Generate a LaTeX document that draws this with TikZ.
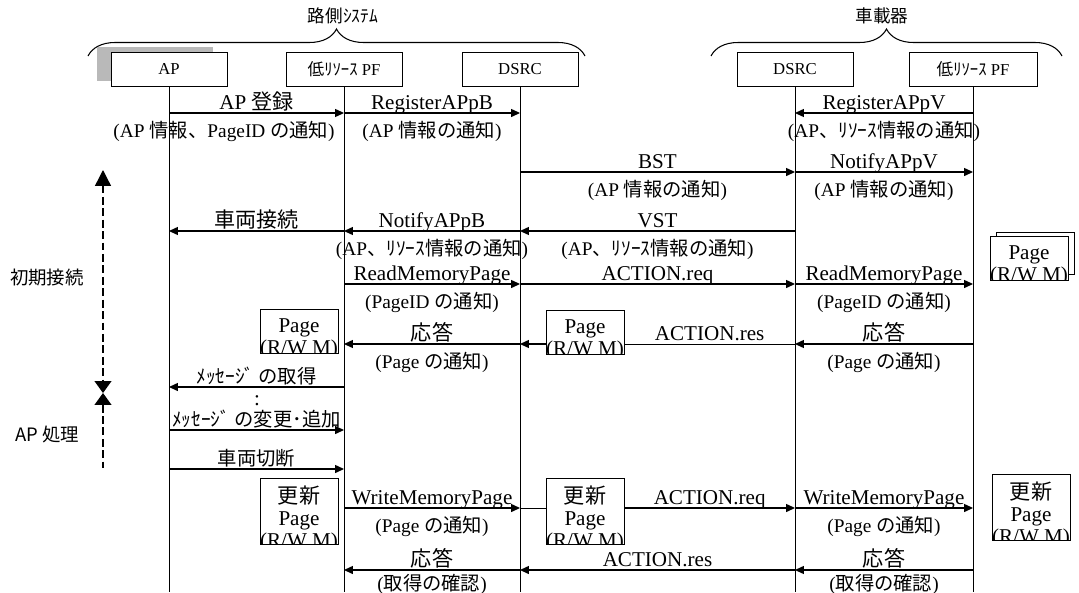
\documentclass[tikz,border=0pt]{standalone}
\usepackage{fontspec}
\setmainfont{Liberation Serif}
\newfontfamily\jp{Noto Sans CJK JP}
\usetikzlibrary{arrows.meta,decorations.pathreplacing,shadows}
\newlength\pxl
\setlength\pxl{0.02cm}
\newcommand\jtxt[1]{{\jp #1}}

\tikzset{
  actor/.style={draw, fill=white, minimum width=116\pxl, minimum height=34\pxl, inner sep=1pt, font=\fontsize{9.5}{11}\selectfont},
  title/.style={font=\fontsize{10}{12}\selectfont},
  brc/.style={line width=0.6pt, decorate, decoration={brace, amplitude=27\pxl}},
  life/.style={line width=0.5pt},
  msg/.style={line width=0.6pt, -{Triangle[length=5pt,width=4.5pt]}},
  lbl/.style={anchor=base, yshift=4\pxl, inner sep=0pt, font=\fontsize{12}{13}\selectfont},
  lbls/.style={anchor=base, yshift=4\pxl, inner sep=0pt, font=\fontsize{11}{12}\selectfont},
  sub/.style={anchor=base, yshift=-24\pxl, inner sep=0pt, font=\fontsize{11}{12}\selectfont},
  phase/.style={font=\jp\fontsize{10.5}{12}\selectfont},
  pagebox/.style={draw, fill=white, minimum width=78\pxl, minimum height=44\pxl, inner sep=0pt,
    path picture={\node[anchor=north, align=center, inner sep=0pt, text depth=0pt, font=\fontsize{12}{12.6}\selectfont]
      at ([yshift=-5\pxl]path picture bounding box.north) {#1};}},
  updbox/.style={pagebox={#1}, minimum height=66\pxl},
  backbox/.style={draw, fill=white, minimum width=78\pxl, minimum height=42\pxl},
}

\begin{document}
\begin{tikzpicture}[x=0.02cm, y=-0.02cm]
\useasboundingbox (0,0) rectangle (1079,592);

% groups
\node[title] (rsys) at (343,16) {\jtxt{路側ｼｽﾃﾑ}};
\node[title] (veh) at (882,16) {\jtxt{車載器}};
\draw[brc] (88,56) -- (585,56);
\draw[brc] (711,56) -- (1062,56);

% lifeline heads
\node[actor, drop shadow={shadow xshift=-14\pxl, shadow yshift=5\pxl, fill=gray!55, opacity=1}] (ap) at (169,69) {AP};
\node[actor] (rpf) at (344,69) {\jtxt{低ﾘｿｰｽ} PF};
\node[actor] (rdsrc) at (520,69) {DSRC};
\node[actor] (vdsrc) at (795,69) {DSRC};
\node[actor, minimum width=128\pxl] (vpf) at (973,69) {\jtxt{低ﾘｿｰｽ} PF};

\coordinate (bot) at (0,592);
\foreach \n in {ap,rpf,rdsrc,vdsrc,vpf}
  \draw[life] (\n.south) -- (\n |- bot);

% message rows
\coordinate (r1) at (0,113);
\coordinate (r2) at (0,172);
\coordinate (r3) at (0,231);
\coordinate (r4) at (0,284);
\coordinate (r5) at (0,344);
\coordinate (r6) at (0,387);
\coordinate (r7) at (0,430);
\coordinate (r8) at (0,469);
\coordinate (r9) at (0,508);
\coordinate (r10) at (0,570);

% phases
\coordinate (ph1) at (103,170);
\coordinate (ph2) at (103,393);
\coordinate (ph3) at (103,468);
\draw[line width=0.8pt, dash pattern=on 4.5pt off 2pt, {Triangle[length=9pt,width=9pt]}-{Triangle[length=6.8pt,width=9.6pt]}] (ph1) -- (ph2);
\draw[line width=0.8pt, dash pattern=on 4.5pt off 2pt, {Triangle[length=6.8pt,width=9.6pt]}-] (ph2) -- (ph3);
\node[phase] (init) at (47,278) {初期接続};
\node[phase] (approc) at (47,435) {AP 処理};

% registration
\draw[msg] (ap |- r1) -- node[lbl] (l1a) {AP \jtxt{登録}} (rpf |- r1);
\node[sub, anchor=base east] (s1a) at ([xshift=-9\pxl]rpf |- r1) {(AP \jtxt{情報、}PageID \jtxt{の通知})};
\draw[msg] (rpf |- r1) -- node[lbl] (l1b) {RegisterAPpB} node[sub] (s1b) {(AP \jtxt{情報の通知})} (rdsrc |- r1);
\draw[msg] (vpf |- r1) -- node[lbl] (l1c) {RegisterAPpV} node[sub] (s1c) {(AP\jtxt{、ﾘｿｰｽ情報の通知})} (vdsrc |- r1);

\draw[msg] (rdsrc |- r2) -- node[lbl] (l2a) {BST} node[sub] (s2a) {(AP \jtxt{情報の通知})} (vdsrc |- r2);
\draw[msg] (vdsrc |- r2) -- node[lbl] (l2b) {NotifyAPpV} node[sub] (s2b) {(AP \jtxt{情報の通知})} (vpf |- r2);

\draw[msg] (rpf |- r3) -- node[lbl] (l3a) {\jtxt{車両接続}} (ap |- r3);
\draw[msg] (rdsrc |- r3) -- node[lbl] (l3b) {NotifyAPpB} node[sub] (s3b) {(AP\jtxt{、ﾘｿｰｽ情報の通知})} (rpf |- r3);
\draw[msg] (vdsrc |- r3) -- node[lbl] (l3c) {VST} node[sub] (s3c) {(AP\jtxt{、ﾘｿｰｽ情報の通知})} (rdsrc |- r3);

% read page
\node[backbox] (stk) at (1035,253) {};
\node[pagebox={Page\\(R/W M)}] (pg3) at (1029,258) {};
\draw[msg] (rpf |- r4) -- node[lbl] (l4a) {ReadMemoryPage} node[sub] (s4a) {(PageID \jtxt{の通知})} (rdsrc |- r4);
\draw[msg] (rdsrc |- r4) -- node[lbl] (l4b) {ACTION.req} (vdsrc |- r4);
\draw[msg] (vdsrc |- r4) -- node[lbl] (l4c) {ReadMemoryPage} node[sub] (s4c) {(PageID \jtxt{の通知})} (vpf |- r4);

\node[pagebox={Page\\(R/W M)}] (pg1) at (299,331) {};
\node[pagebox={Page\\(R/W M)}] (pg2) at (585,332) {};
\draw[msg] (rdsrc |- r5) -- node[lbl] (l5a) {\jtxt{応答}} node[sub] (s5a) {(Page \jtxt{の通知})} (rpf |- r5);
\draw (vdsrc |- r5) -- node[lbl] (l5b) {ACTION.res} (pg2.east |- r5);
\draw[msg] (pg2.west |- r5) -- (rdsrc |- r5);
\draw[msg] (vpf |- r5) -- node[lbl] (l5c) {\jtxt{応答}} node[sub] (s5c) {(Page \jtxt{の通知})} (vdsrc |- r5);

% AP processing
\draw[msg] (rpf |- r6) -- node[lbls] (l6) {\jtxt{ﾒｯｾｰｼﾞ の取得}} (ap |- r6);
\node[lbl, anchor=center, yshift=0pt] (dots) at (257,405) {:};
\draw[msg] (ap |- r7) -- node[lbls] (l7) {\jtxt{ﾒｯｾｰｼﾞ の変更･追加}} (rpf |- r7);
\draw[msg] (ap |- r8) -- node[lbls] (l8) {\jtxt{車両切断}} (rpf |- r8);

% write page
\node[updbox={\jtxt{更新}\\Page\\(R/W M)}] (up1) at (299,511) {};
\node[updbox={\jtxt{更新}\\Page\\(R/W M)}] (up2) at (585,511) {};
\node[updbox={\jtxt{更新}\\Page\\(R/W M)}] (up3) at (1031,507) {};
\draw[msg] (rpf |- r9) -- node[lbl] (l9a) {WriteMemoryPage} node[sub] (s9a) {(Page \jtxt{の通知})} (rdsrc |- r9);
\draw (rdsrc |- r9) -- (up2.west |- r9);
\draw[msg] (up2.east |- r9) -- node[lbl] (l9b) {ACTION.req} (vdsrc |- r9);
\draw[msg] (vdsrc |- r9) -- node[lbl] (l9c) {WriteMemoryPage} node[sub] (s9c) {(Page \jtxt{の通知})} (vpf |- r9);

\draw[msg] (rdsrc |- r10) -- node[lbl] (l10a) {\jtxt{応答}} node[sub, yshift=4\pxl] (s10a) {(\jtxt{取得の確認})} (rpf |- r10);
\draw[msg] (vdsrc |- r10) -- node[lbl] (l10b) {ACTION.res} (rdsrc |- r10);
\draw[msg] (vpf |- r10) -- node[lbl] (l10c) {\jtxt{応答}} node[sub, yshift=4\pxl] (s10c) {(\jtxt{取得の確認})} (vdsrc |- r10);
\end{tikzpicture}
\end{document}
